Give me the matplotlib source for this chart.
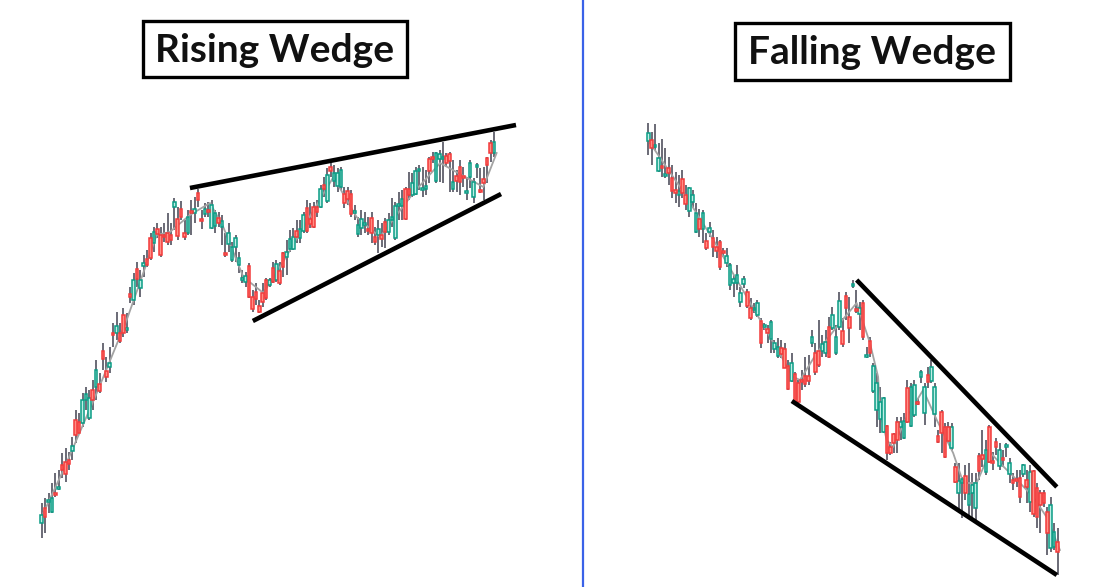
import matplotlib
matplotlib.use("Agg")
import matplotlib.pyplot as plt
from matplotlib.patches import Rectangle
import numpy as np

# price units are "pixels above the bottom + 13"
# ---- rising wedge (left) ----
rise_open = [77, 92, 98, 88, 107, 111, 135, 138, 140, 149, 180, 178, 177, 200, 182, 210, 213, 216, 249, 229,
             233, 267, 267, 267, 285, 270, 306, 300, 331, 312, 334, 341, 362, 357, 371, 365, 365, 367, 365, 393,
             381, 391, 367, 367, 389, 387, 407, 380, 386, 390, 372, 374, 382, 373, 346, 356, 340, 353, 335, 320,
             318, 334, 303, 308, 294, 307, 320, 315, 332, 320, 329, 347, 343, 351, 351, 369, 362, 369, 392, 381,
             393, 393, 393, 415, 399, 433, 419, 414, 413, 406, 409, 406, 387, 366, 372, 375, 370, 382, 363, 365,
             365, 378, 368, 380, 362, 394, 394, 411, 411, 405, 406, 429, 410, 411, 441, 442, 419, 441, 441, 444,
             446, 411, 424, 433, 423, 407, 423, 403, 433, 410, 421, 442, 457, 447]
rise_close = [85, 83, 100, 102, 105, 113, 130, 126, 136, 154, 165, 167, 200, 206, 202, 200, 230, 209, 241, 223,
              237, 265, 274, 259, 267, 271, 303, 320, 321, 320, 337, 335, 342, 368, 366, 345, 363, 358, 360, 398,
              364, 383, 363, 383, 387, 391, 400, 379, 391, 388, 395, 387, 377, 379, 345, 367, 353, 362, 342, 322,
              324, 303, 291, 301, 288, 298, 302, 320, 318, 336, 317, 333, 348, 361, 363, 363, 371, 385, 369, 376,
              373, 388, 411, 411, 425, 429, 427, 427, 430, 397, 401, 386, 389, 375, 381, 377, 369, 367, 358, 371,
              361, 368, 380, 383, 394, 396, 401, 381, 405, 417, 429, 430, 412, 414, 429, 441, 447, 446, 442, 437,
              439, 418, 419, 418, 422, 409, 437, 418, 435, 408, 417, 435, 447, 458]
rise_high = [97, 102, 107, 117, 127, 130, 147, 152, 148, 163, 190, 187, 207, 213, 210, 220, 240, 227, 257, 243,
             253, 277, 288, 277, 292, 287, 313, 327, 338, 330, 345, 350, 367, 373, 377, 373, 377, 387, 377, 402,
             393, 399, 380, 390, 400, 403, 411, 390, 397, 398, 400, 390, 388, 385, 367, 377, 358, 365, 348, 330,
             328, 337, 310, 317, 300, 317, 322, 322, 338, 340, 338, 348, 360, 370, 372, 380, 380, 388, 400, 397,
             398, 400, 415, 423, 432, 437, 435, 432, 433, 413, 413, 410, 395, 383, 390, 388, 383, 388, 373, 380,
             377, 382, 387, 402, 398, 408, 410, 413, 428, 427, 433, 435, 433, 430, 443, 448, 448, 450, 458, 447,
             448, 440, 430, 440, 433, 423, 440, 422, 437, 432, 433, 443, 460, 468]
rise_low = [62, 67, 87, 87, 103, 110, 122, 118, 130, 140, 157, 166, 173, 190, 180, 190, 200, 207, 230, 218,
            227, 253, 260, 257, 263, 267, 297, 295, 313, 303, 323, 333, 340, 348, 362, 343, 358, 355, 355, 370,
            360, 380, 360, 365, 365, 377, 393, 371, 383, 383, 371, 367, 373, 355, 343, 348, 338, 338, 327, 317,
            313, 302, 288, 295, 287, 293, 300, 313, 317, 318, 315, 323, 325, 348, 350, 357, 357, 367, 367, 372,
            372, 383, 392, 403, 397, 423, 413, 408, 410, 392, 395, 383, 380, 363, 365, 367, 365, 357, 355, 347,
            353, 352, 365, 373, 360, 380, 380, 380, 400, 403, 405, 410, 403, 405, 417, 437, 417, 418, 417, 433,
            408, 408, 408, 405, 413, 400, 412, 397, 422, 407, 400, 417, 438, 443]
# gray guide line: (candle index, price)
rise_line_x = [0.5, 6.4, 16.2, 25, 33.8, 37.7, 43.6, 49.5, 53.4, 59.3, 65.2, 70.1, 76, 85.8, 92.6, 99.5,
               109.3, 117.2, 129.9, 133.8]
rise_line_y = [87, 130, 207, 280, 365, 368, 385, 397, 373, 323, 307, 333, 367, 423, 383, 363, 407, 437, 413, 447]
rise_upper = ([43.6, 139.5], [412, 475])
rise_lower = ([62.1, 135.1], [279, 406])

# ---- falling wedge (right) ----
fall_open = [459, 460, 453, 429, 433, 424, 432, 422, 410, 405, 421, 405, 389, 398, 368, 381, 371, 359, 368, 362,
             353, 358, 348, 337, 315, 317, 317, 298, 316, 308, 292, 290, 285, 279, 273, 271, 261, 251, 244, 252,
             251, 234, 219, 226, 217, 219, 224, 224, 257, 247, 249, 249, 247, 273, 272, 247, 273, 269, 304, 283,
             314, 291, 286, 297, 243, 259, 209, 190, 181, 168, 174, 153, 166, 178, 173, 162, 212, 174, 185, 197,
             223, 187, 225, 219, 186, 164, 188, 173, 173, 152, 133, 107, 117, 124, 95, 107, 92, 144, 145, 128,
             173, 138, 158, 134, 141, 153, 126, 120, 121, 122, 126, 120, 98, 129, 112, 107, 107, 88, 52, 53, 58]
fall_close = [467, 452, 454, 442, 432, 425, 427, 409, 407, 409, 407, 396, 412, 405, 387, 371, 387, 352, 372, 353,
              349, 333, 347, 344, 335, 321, 325, 307, 321, 294, 282, 291, 297, 257, 274, 267, 278, 257, 253, 246,
              232, 211, 237, 198, 198, 218, 216, 219, 263, 228, 235, 256, 258, 243, 285, 263, 299, 256, 292, 272,
              316, 289, 292, 263, 244, 247, 234, 217, 198, 202, 147, 147, 157, 160, 178, 179, 178, 213, 215, 196,
              228, 213, 218, 233, 213, 158, 167, 143, 159, 173, 118, 119, 121, 107, 106, 115, 117, 129, 141, 150,
              138, 137, 153, 150, 140, 154, 137, 117, 119, 103, 135, 113, 128, 86, 83, 95, 97, 67, 95, 68, 48]
fall_high = [477, 468, 476, 457, 461, 452, 443, 435, 428, 425, 430, 415, 413, 410, 397, 391, 390, 367, 378, 370,
             363, 360, 352, 352, 337, 325, 335, 313, 324, 311, 302, 297, 300, 282, 277, 275, 280, 260, 262, 260,
             257, 240, 247, 228, 220, 230, 243, 245, 270, 257, 280, 265, 270, 283, 293, 275, 308, 282, 308, 303,
             320, 310, 298, 300, 253, 263, 237, 227, 213, 203, 175, 158, 167, 183, 183, 187, 220, 217, 220, 202,
             230, 217, 233, 240, 217, 170, 190, 177, 178, 177, 137, 137, 123, 135, 137, 127, 127, 147, 170, 160,
             175, 148, 162, 157, 150, 157, 142, 127, 130, 130, 136, 130, 135, 130, 117, 110, 110, 93, 103, 77, 72]
fall_low = [445, 435, 450, 428, 423, 422, 415, 402, 397, 393, 402, 390, 383, 392, 367, 363, 357, 350, 363, 343,
            342, 330, 343, 333, 310, 303, 310, 293, 312, 292, 280, 287, 283, 252, 270, 257, 247, 247, 242, 242,
            232, 210, 218, 197, 197, 210, 213, 215, 253, 225, 233, 243, 243, 242, 270, 245, 270, 253, 280, 257,
            312, 287, 270, 260, 242, 243, 207, 173, 167, 167, 140, 145, 147, 147, 160, 161, 177, 173, 183, 195,
            217, 175, 212, 217, 173, 157, 147, 142, 157, 150, 117, 87, 82, 100, 83, 80, 78, 120, 133, 125,
            137, 130, 145, 130, 133, 143, 117, 110, 113, 97, 123, 97, 88, 83, 72, 67, 93, 45, 48, 50, 25]
fall_line_x = [0.5, 9.3, 19.1, 28.9, 42.5, 44.5, 49.4, 55.2, 61.1, 65, 67.4, 67.9, 69.9, 71.8, 75.8, 80.6,
               84.6, 89.4, 92.4, 96.3, 100.2, 103.1, 109, 112.9, 116.8, 120.7]
fall_line_y = [457, 413, 360, 303, 223, 220, 247, 273, 297, 257, 223, 190, 160, 153, 183, 210, 180, 147, 117,
               117, 148, 137, 117, 103, 83, 50]
fall_upper = ([61.1, 119.8], [320, 113])
fall_lower = ([42.1, 119.8], [199, 25])

titles = ["Rising Wedge", "Falling Wedge"]

UP_EDGE, UP_FILL = "#0a9c85", "#bfeee5"
DN_EDGE, DN_FILL = "#f23b3b", "#ff8f86"
WICK = "#6a6a76"


def draw_candles(ax, o, h, l, c, line_x, line_y, upper, lower):
    o, h, l, c = map(np.asarray, (o, h, l, c))
    x = np.arange(len(o))
    up = c >= o
    ax.vlines(x, l, h, color=WICK, lw=1.4, zorder=2)
    ax.plot(line_x, line_y, color="#a3a3a3", lw=1.3, zorder=3)
    bottom = np.minimum(o, c)
    height = np.maximum(np.abs(c - o), 1.8)
    ax.bar(x[up], height[up], bottom=bottom[up], width=0.78,
           facecolor=UP_FILL, edgecolor=UP_EDGE, lw=1.1, zorder=4)
    ax.bar(x[~up], height[~up], bottom=bottom[~up], width=0.78,
           facecolor=DN_FILL, edgecolor=DN_EDGE, lw=1.1, zorder=4)
    for xs, ys in (upper, lower):
        ax.plot(xs, ys, color="black", lw=3.3, solid_capstyle="butt", zorder=5)
    ax.set_ylim(13, 600)
    ax.axis("off")


W, H = 1119, 587
fig = plt.figure(figsize=(W / 100, H / 100), dpi=100)
fig.patch.set_facecolor("white")

ax1 = fig.add_axes([0, 0, 582 / W, 1])
draw_candles(ax1, rise_open, rise_high, rise_low, rise_close, rise_line_x, rise_line_y, rise_upper, rise_lower)
ax1.set_xlim(-41.7 / 3.4, (582 - 41.7) / 3.4)

ax2 = fig.add_axes([583 / W, 0, (W - 583) / W, 1])
draw_candles(ax2, fall_open, fall_high, fall_low, fall_close, fall_line_x, fall_line_y, fall_upper, fall_lower)
ax2.set_xlim((583 - 648.3) / 3.41, (W - 648.3) / 3.41)

# blue divider
fig.add_artist(plt.Line2D([582.5 / W, 582.5 / W], [0, 1], color="#3a62e8", lw=1.6))

# boxed titles: (left, top, width, height) in pixels
boxes = [(143, 21, 264, 56), (735, 23, 275, 57)]
for (bx, by, bw, bh), t in zip(boxes, titles):
    fig.add_artist(Rectangle((bx / W, 1 - (by + bh) / H), bw / W, bh / H, transform=fig.transFigure,
                             facecolor="white", edgecolor="black", lw=2.4))
    fig.text((bx + bw / 2) / W, 1 - (by + bh / 2 + 1) / H, t, ha="center", va="center",
             fontsize=28, fontweight="bold", family=["Lato", "DejaVu Sans"], color="#111111")

fig.savefig("out.png", dpi=100, facecolor="white")
